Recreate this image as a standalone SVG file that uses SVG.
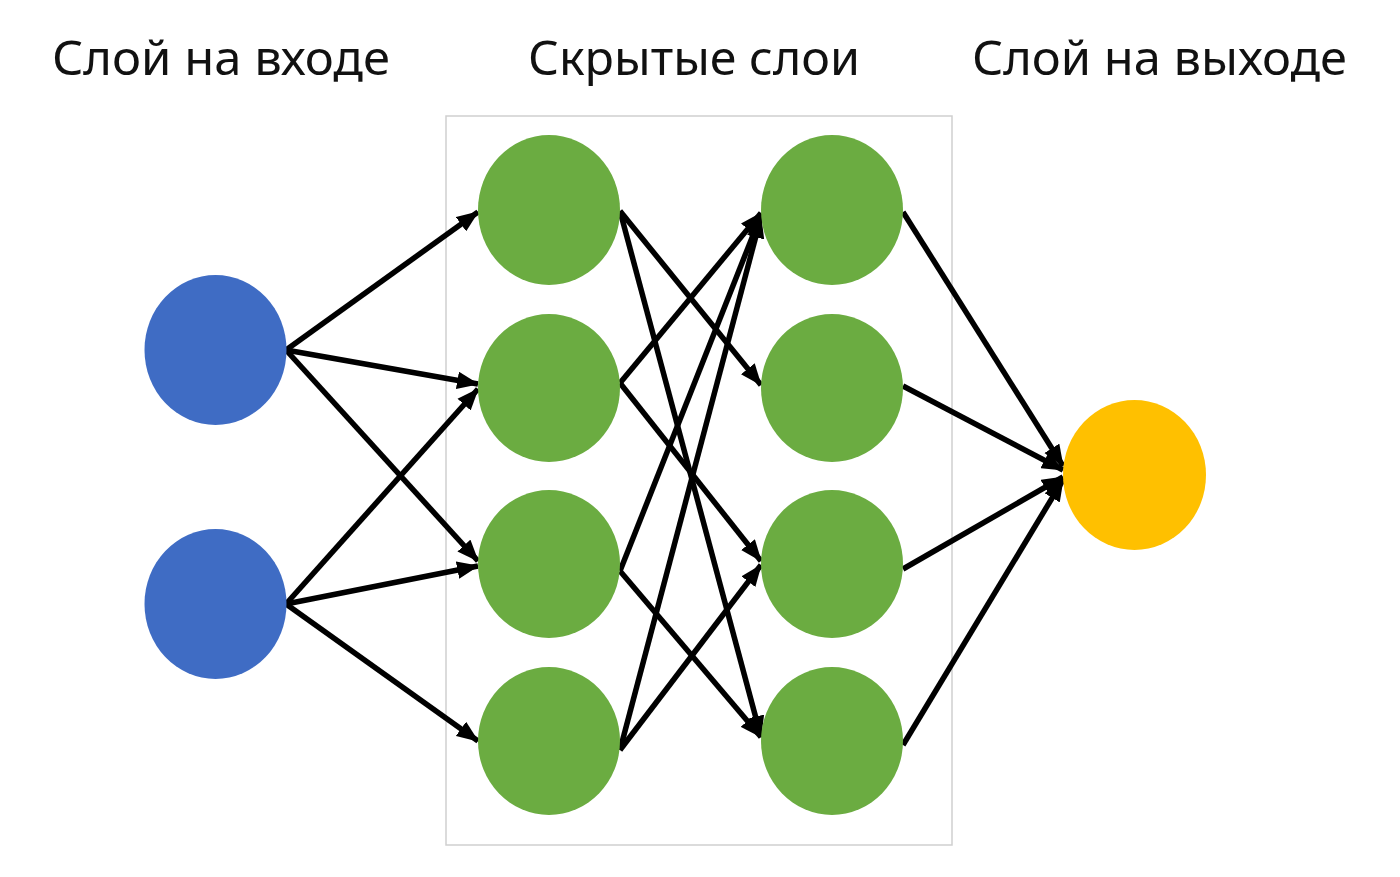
<svg xmlns="http://www.w3.org/2000/svg" width="1400" height="877" viewBox="0 0 1400 877">
<style>
.lbl{font-family:"Noto Sans","Open Sans","DejaVu Sans",sans-serif;font-size:48px;fill:#111}
.in{fill:#3F6CC4}
.hid{fill:#6BAC41}
.out{fill:#FFC000}
.e{stroke:#000;stroke-width:5.5;fill:none;marker-end:url(#ah)}
</style>
<defs>
<marker id="ah" markerUnits="userSpaceOnUse" markerWidth="22" markerHeight="18" viewBox="0 0 20 16" refX="19" refY="8" orient="auto">
<path d="M0,0 L20,8 L0,16 Z" fill="#000"/>
</marker>
</defs>
<rect width="1400" height="877" fill="#fff"/>
<text class="lbl" x="52" y="75" textLength="338" lengthAdjust="spacingAndGlyphs">Слой на входе</text>
<text class="lbl" x="528" y="75" textLength="332" lengthAdjust="spacingAndGlyphs">Скрытые слои</text>
<text class="lbl" x="972" y="75" textLength="375" lengthAdjust="spacingAndGlyphs">Слой на выходе</text>
<rect id="hidden-box" x="446" y="116" width="506" height="729" fill="none" stroke="#cfcfcf" stroke-width="1.5"/>
<g id="connectors">
<path class="e" d="M286,350 L478,212"/>
<path class="e" d="M286,350 L478,384"/>
<path class="e" d="M286,350 L478,561"/>
<path class="e" d="M286,604 L478,389"/>
<path class="e" d="M286,604 L478,566"/>
<path class="e" d="M286,604 L478,741"/>
<path class="e" d="M620,211 L761,385"/>
<path class="e" d="M620,211 L761,737"/>
<path class="e" d="M620,383 L761,213"/>
<path class="e" d="M620,383 L761,561"/>
<path class="e" d="M620,571 L761,215"/>
<path class="e" d="M620,571 L761,737"/>
<path class="e" d="M620,750 L761,217"/>
<path class="e" d="M620,750 L761,565"/>
<path class="e" d="M903,212 L1063,466"/>
<path class="e" d="M903,386 L1063,470"/>
<path class="e" d="M903,569 L1063,477"/>
<path class="e" d="M903,745 L1063,480"/>
</g>
<g id="in1"><ellipse class="in" cx="215.5" cy="350" rx="71" ry="75"/></g>
<g id="in2"><ellipse class="in" cx="215.5" cy="604" rx="71" ry="75"/></g>
<g id="h1a"><ellipse class="hid" cx="549" cy="210" rx="71" ry="75"/></g>
<g id="h1b"><ellipse class="hid" cx="549" cy="388" rx="71" ry="74"/></g>
<g id="h1c"><ellipse class="hid" cx="549" cy="564" rx="71" ry="74"/></g>
<g id="h1d"><ellipse class="hid" cx="549" cy="741" rx="71" ry="74"/></g>
<g id="h2a"><ellipse class="hid" cx="832" cy="210" rx="71" ry="75"/></g>
<g id="h2b"><ellipse class="hid" cx="832" cy="388" rx="71" ry="74"/></g>
<g id="h2c"><ellipse class="hid" cx="832" cy="564" rx="71" ry="74"/></g>
<g id="h2d"><ellipse class="hid" cx="832" cy="741" rx="71" ry="74"/></g>
<g id="out"><ellipse class="out" cx="1134.5" cy="475" rx="71.5" ry="75"/></g>
</svg>
